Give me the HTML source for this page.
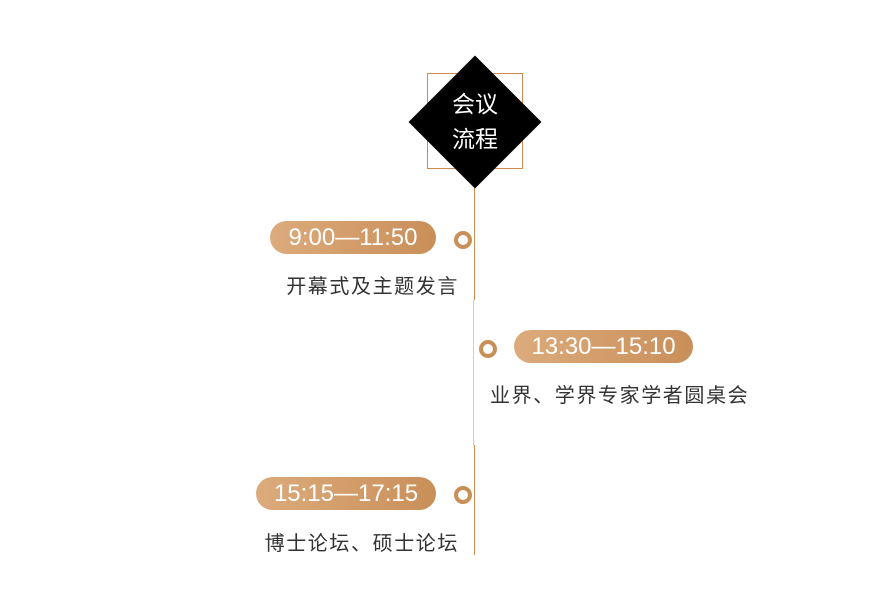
<!DOCTYPE html>
<html><head><meta charset="utf-8"><style>
body{margin:0;width:875px;height:590px;background:#fff;position:relative;overflow:hidden;font-family:"Liberation Sans","Noto Sans CJK SC",sans-serif}
.a{position:absolute}
.pill{position:absolute;height:33px;border-radius:17px;background:linear-gradient(90deg,#dcab7c,#c98f59);color:#fff;font-size:24px;line-height:33px;text-align:center}
.dot{position:absolute;width:10px;height:10px;border:4px solid #c98f59;border-radius:50%;background:#fff}
.t{position:absolute;font-size:20px;color:#333;white-space:nowrap;letter-spacing:1.6px}
</style></head><body>
<div class="a" style="left:474px;top:188px;width:1px;height:112px;background:#d08a4c"></div>
<div class="a" style="left:473px;top:300px;width:1px;height:145px;background:#e8c8a8"></div>
<div class="a" style="left:474px;top:445px;width:1px;height:110px;background:#d08a4c"></div>
<div class="a" style="left:427px;top:73px;width:94px;height:94px;border:1px solid #d08a4c"></div>
<div class="a" style="left:428px;top:75px;width:94px;height:94px;background:#000;transform:rotate(45deg)"></div>
<div class="a" style="left:435px;top:87px;width:80px;text-align:center;color:#fff;font-size:23px;line-height:35px">会议<br>流程</div>
<div class="pill" style="left:270px;top:221px;width:166px">9:00—11:50</div>
<div class="dot" style="left:454px;top:231px"></div>
<div class="t" style="right:416px;top:270px">开幕式及主题发言</div>
<div class="pill" style="left:514px;top:330px;width:179px">13:30—15:10</div>
<div class="dot" style="left:479px;top:340px"></div>
<div class="t" style="left:490px;top:379px">业界、学界专家学者圆桌会</div>
<div class="pill" style="left:256px;top:477px;width:180px">15:15—17:15</div>
<div class="dot" style="left:454px;top:486px"></div>
<div class="t" style="right:416px;top:527px">博士论坛、硕士论坛</div>
</body></html>
